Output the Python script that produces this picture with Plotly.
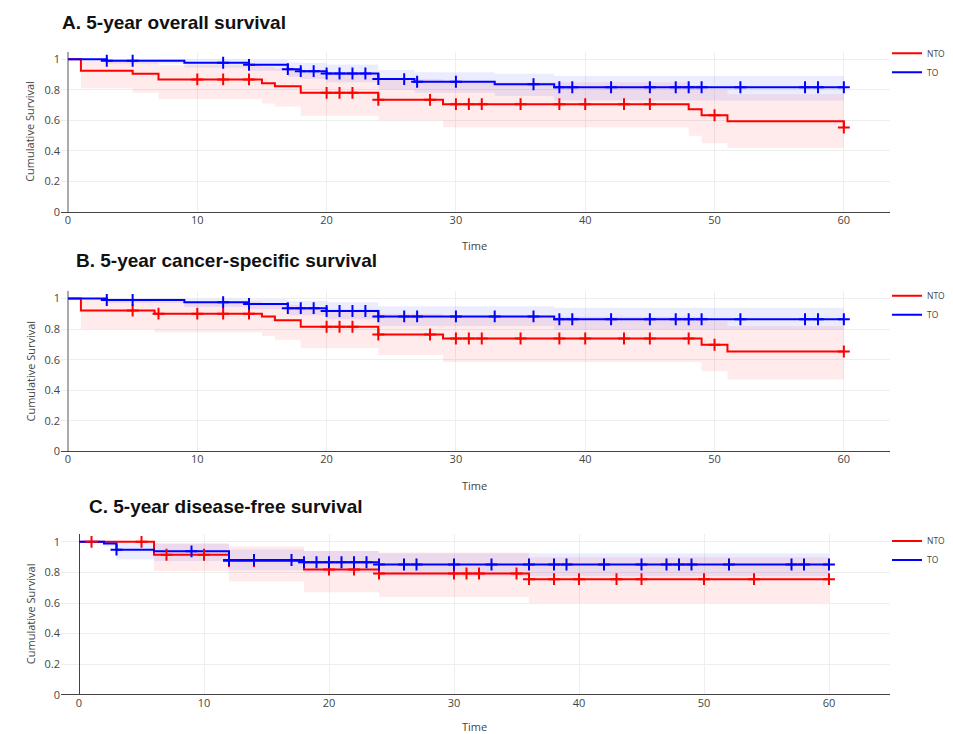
import plotly.graph_objects as go

# ---------------- data ----------------
# Panel A: 5-year overall survival
a_nto_t = [0, 1, 5, 7, 15, 16, 18, 24, 29, 48, 49, 51, 60]
a_nto_s = [1, 0.925, 0.905, 0.868, 0.842, 0.823, 0.780, 0.734, 0.706, 0.672, 0.633, 0.594, 0.553]
a_nto_hi = [1, 0.99, 0.98, 0.96, 0.95, 0.94, 0.91, 0.87, 0.85, 0.83, 0.80, 0.77, 0.77]
a_nto_lo = [1, 0.81, 0.78, 0.74, 0.71, 0.69, 0.63, 0.60, 0.555, 0.50, 0.45, 0.42, 0.42]
a_nto_c = [10, 12, 14, 20, 21, 22, 24, 28, 30, 31, 32, 35, 38, 40, 43, 45, 50, 60]

a_to_t = [0, 3, 9, 14, 17, 18, 20, 24, 26.8, 33, 37.6, 60]
a_to_s = [1, 0.99, 0.977, 0.963, 0.935, 0.922, 0.907, 0.870, 0.853, 0.836, 0.817, 0.817]
a_to_hi = [1, 1, 0.998, 0.995, 0.98, 0.975, 0.965, 0.93, 0.915, 0.905, 0.89, 0.89]
a_to_lo = [1, 0.97, 0.945, 0.925, 0.885, 0.87, 0.85, 0.80, 0.78, 0.76, 0.73, 0.73]
a_to_c = [3, 5, 12, 14, 17, 18, 19, 20, 21, 22, 23, 24, 26, 27, 30, 36, 38, 39, 42, 45,
          47, 48, 49, 52, 57, 58, 60]

# Panel B: 5-year cancer-specific survival
b_nto_t = [0, 1, 6.7, 15, 16, 18, 24, 29, 49, 51, 60]
b_nto_s = [1, 0.922, 0.901, 0.882, 0.858, 0.815, 0.765, 0.739, 0.698, 0.654, 0.654]
b_nto_hi = [1, 0.99, 0.98, 0.97, 0.96, 0.93, 0.90, 0.88, 0.85, 0.82, 0.82]
b_nto_lo = [1, 0.80, 0.78, 0.755, 0.73, 0.675, 0.63, 0.585, 0.525, 0.47, 0.47]
b_nto_c = [5, 7, 10, 12, 14, 20, 21, 22, 24, 28, 30, 31, 32, 35, 38, 40, 43, 45, 48, 50, 60]

b_to_t = [0, 3, 9, 14, 17, 20, 24, 37.6, 60]
b_to_s = [1, 0.99, 0.976, 0.965, 0.937, 0.918, 0.883, 0.864, 0.864]
b_to_hi = [1, 1, 0.998, 0.995, 0.985, 0.975, 0.95, 0.94, 0.94]
b_to_lo = [1, 0.97, 0.945, 0.93, 0.89, 0.865, 0.82, 0.795, 0.795]
b_to_c = [3, 5, 12, 14, 17, 18, 19, 20, 21, 22, 23, 24, 26, 27, 30, 33, 36, 38, 39, 42,
          45, 47, 48, 49, 52, 57, 58, 60]

# Panel C: 5-year disease-free survival
c_nto_t = [0, 6, 12, 18, 24, 36, 60]
c_nto_s = [1, 0.916, 0.875, 0.819, 0.793, 0.756, 0.756]
c_nto_hi = [1, 0.99, 0.97, 0.94, 0.93, 0.90, 0.90]
c_nto_lo = [1, 0.81, 0.74, 0.67, 0.64, 0.60, 0.60]
c_nto_c = [1, 5, 7, 10, 12, 14, 20, 22, 24, 30, 31, 32, 35, 36, 38, 40, 43, 45, 50, 54, 60]

c_to_t = [0, 2, 3, 6, 12, 18, 24, 60]
c_to_s = [1, 0.989, 0.949, 0.938, 0.881, 0.867, 0.852, 0.852]
c_to_hi = [1, 1, 0.995, 0.99, 0.95, 0.94, 0.925, 0.925]
c_to_lo = [1, 0.97, 0.885, 0.875, 0.815, 0.80, 0.775, 0.775]
c_to_c = [3, 9, 12, 14, 17, 18, 19, 20, 21, 22, 23, 24, 26, 27, 30, 33, 36, 38, 39, 42,
          45, 47, 48, 49, 52, 57, 58, 60]

panel_titles = ["A. 5-year overall survival",
                "B. 5-year cancer-specific survival",
                "C. 5-year disease-free survival"]
group_names = ["NTO", "TO"]
x_ticks = [0, 10, 20, 30, 40, 50, 60]
y_ticks = [0, 0.2, 0.4, 0.6, 0.8, 1]

panels = [
    [(a_nto_t, a_nto_s, a_nto_hi, a_nto_lo, a_nto_c), (a_to_t, a_to_s, a_to_hi, a_to_lo, a_to_c)],
    [(b_nto_t, b_nto_s, b_nto_hi, b_nto_lo, b_nto_c), (b_to_t, b_to_s, b_to_hi, b_to_lo, b_to_c)],
    [(c_nto_t, c_nto_s, c_nto_hi, c_nto_lo, c_nto_c), (c_to_t, c_to_s, c_to_hi, c_to_lo, c_to_c)],
]

# ---------------- styles ----------------
W, H = 953, 734
line_colors = ["#ff0000", "#0000ff"]
fill_colors = ["rgba(255,0,0,0.08)", "rgba(0,0,255,0.075)"]
FONT = "Open Sans, verdana, arial, sans-serif"


def surv_at(times, surv, t):
    v = surv[0]
    for tt, ss in zip(times, surv):
        if tt <= t:
            v = ss
    return v


fig = go.Figure()

for p, groups in enumerate(panels):
    sfx = "" if p == 0 else str(p + 1)
    xa, ya = "x" + sfx, "y" + sfx
    leg = "legend" + sfx
    # confidence bands
    for g, (t, s, hi, lo, cens) in enumerate(groups):
        fig.add_trace(go.Scatter(x=t, y=hi, mode="lines", line=dict(width=0, shape="hv"),
                                 showlegend=False, hoverinfo="skip", xaxis=xa, yaxis=ya))
        fig.add_trace(go.Scatter(x=t, y=lo, mode="lines", line=dict(width=0, shape="hv"),
                                 fill="tonexty", fillcolor=fill_colors[g],
                                 showlegend=False, hoverinfo="skip", xaxis=xa, yaxis=ya))
    # survival curves
    for g, (t, s, hi, lo, cens) in enumerate(groups):
        fig.add_trace(go.Scatter(x=t, y=s, mode="lines", name=group_names[g],
                                 line=dict(color=line_colors[g], width=2, shape="hv"),
                                 legend=leg, xaxis=xa, yaxis=ya))
    # censor marks
    for g, (t, s, hi, lo, cens) in enumerate(groups):
        fig.add_trace(go.Scatter(x=cens, y=[surv_at(t, s, c) for c in cens], mode="markers",
                                 marker=dict(symbol="cross-thin-open", size=8.5,
                                             color=line_colors[g],
                                             line=dict(width=2, color=line_colors[g])),
                                 showlegend=False, xaxis=xa, yaxis=ya))

# panel geometry in pixels: (left, right, top, bottom)
boxes = [(53, 882, 44, 206), (53, 882, 285.6, 447.7), (53, 882, 531.3, 693.3)]
x_ranges = [[-0.54, 63.57], [-0.54, 63.57], [-1.44, 64.88]]
vzero = [("#aaaaaa", 2), ("#aaaaaa", 2), ("#444444", 1)]
title_pos = [(52, 15), (66, 255), (79, 503.5)]
time_y = [240, 482, 725]
ylab_y = [125, 367, 612]
legend_top = [31, 276, 523.5]

layout = dict(width=W, height=H, margin=dict(l=0, r=0, t=0, b=0),
              paper_bgcolor="white", plot_bgcolor="white",
              font=dict(family=FONT, size=11, color="#444"), annotations=[])

for p in range(3):
    sfx = "" if p == 0 else str(p + 1)
    l, r, t, b = boxes[p]
    layout["xaxis" + sfx] = dict(
        domain=[l / W, r / W], range=x_ranges[p], anchor="y" + sfx,
        tickvals=x_ticks, showgrid=True, gridcolor="#eeeeee", gridwidth=1,
        zeroline=True, zerolinecolor=vzero[p][0], zerolinewidth=vzero[p][1],
        showline=False, ticks="", tickfont=dict(size=11))
    layout["yaxis" + sfx] = dict(
        domain=[(H - b) / H, (H - t) / H], range=[0, 1.05], anchor="x" + sfx,
        tickvals=y_ticks, showgrid=True, gridcolor="#eeeeee", gridwidth=1,
        zeroline=True, zerolinecolor="#444444", zerolinewidth=1,
        showline=False, ticks="", tickfont=dict(size=11))
    layout["legend" + sfx] = dict(x=879 / W, xanchor="left", y=(H - legend_top[p]) / H,
                                  yanchor="top", traceorder="normal",
                                  font=dict(size=8.5, color="#444"),
                                  bgcolor="rgba(0,0,0,0)", borderwidth=0)
    layout["annotations"] += [
        dict(text="<b>" + panel_titles[p] + "</b>", xref="paper", yref="paper",
             x=title_pos[p][0] / W, y=(H - title_pos[p][1]) / H, xanchor="left",
             yanchor="middle", showarrow=False,
             font=dict(family="Liberation Sans, Arial, sans-serif", size=19, color="#111")),
        dict(text="Time", xref="paper", yref="paper", x=466 / W, y=(H - time_y[p]) / H,
             xanchor="center", yanchor="middle", showarrow=False, font=dict(size=11)),
        dict(text="Cumulative Survival", xref="paper", yref="paper", x=22 / W,
             y=(H - ylab_y[p]) / H, xanchor="center", yanchor="middle", textangle=-90,
             showarrow=False, font=dict(size=11)),
    ]

fig.update_layout(**layout)
fig.write_html("out.html")
